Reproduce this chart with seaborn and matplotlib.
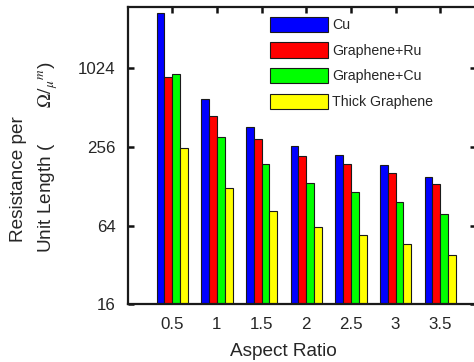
import numpy as np
import pandas as pd
import seaborn as sns
import matplotlib.pyplot as plt

aspect_ratios = ["0.5", "1", "1.5", "2", "2.5", "3", "3.5"]
materials = ["Cu", "Graphene+Ru", "Graphene+Cu", "Thick Graphene"]
cu = [2700, 600, 363, 261, 223, 187, 151]
graphene_ru = [880, 440, 294, 220, 191, 163, 134]
graphene_cu = [918, 306, 188, 135, 116, 97, 79]
thick_graphene = [251, 124, 83, 62, 54, 46, 38]
colors = ["#0000ff", "#ff0000", "#00ff00", "#ffff00"]
yticks = [16, 64, 256, 1024]

rows = []
for name, vals in zip(materials, [cu, graphene_ru, graphene_cu, thick_graphene]):
    for ar, v in zip(aspect_ratios, vals):
        rows.append({"Aspect Ratio": ar, "Material": name, "R": v})
df = pd.DataFrame(rows)

sns.set_style("white")
plt.rcParams['font.family'] = ['Liberation Sans', 'DejaVu Sans']
plt.rcParams['mathtext.fontset'] = 'stix'
txt = '#262626'

W, H = 474, 362
fig = plt.figure(figsize=(W / 100, H / 100), dpi=100)
left, right, top, bottom = 128, 476, 7.3, 304.3
ax = fig.add_axes([left / W, 1 - bottom / H, (right - left) / W, (bottom - top) / H])
ax.set_yscale('log', base=2)

sns.barplot(df, x="Aspect Ratio", y="R", hue="Material", palette=colors,
            saturation=1, width=0.7, edgecolor='#1a1a1a', linewidth=0.8, ax=ax)

ax.set_ylim(16, 2998)
ax.set_xlim(-0.99, 6.8)
ax.set_xticks(range(len(aspect_ratios)))
ax.set_xticklabels(aspect_ratios)
ax.set_yticks(yticks)
ax.set_yticklabels([str(t) for t in yticks])
ax.yaxis.set_minor_locator(plt.NullLocator())
ax.set_xlabel('')
ax.set_ylabel('')
ax.tick_params(axis='x', bottom=True, top=True)
ax.tick_params(axis='y', left=True, right=True)
ax.tick_params(direction='in', length=4.5, width=1.8, labelsize=12.2,
               colors='#111111', labelcolor=txt, pad=9)
for s in ax.spines.values():
    s.set_linewidth(1.6)
    s.set_color('#1a1a1a')

ax.legend(loc='upper left', bbox_to_anchor=(270 / W, 1 - 16.7 / H),
          bbox_transform=fig.transFigure, frameon=False, fontsize=10.2,
          borderpad=0, borderaxespad=0, handlelength=4.08, handleheight=1.3,
          labelspacing=0.72, handletextpad=0.28)

fig.text(283 / W, 1 - 352 / H, 'Aspect Ratio', ha='center', va='center',
         fontsize=13.7, color=txt)
fig.text(19 / W, 1 - 179 / H, 'Resistance per', rotation=90, ha='center',
         va='center', fontsize=13.7, color=txt)
fig.text(48 / W, 1 - 157 / H, 'Unit Length (       $\\Omega/_{\\mu}{}^{m}$)',
         rotation=90, ha='center', va='center', fontsize=13.7, color=txt)

fig.savefig('out.png', dpi=100)
